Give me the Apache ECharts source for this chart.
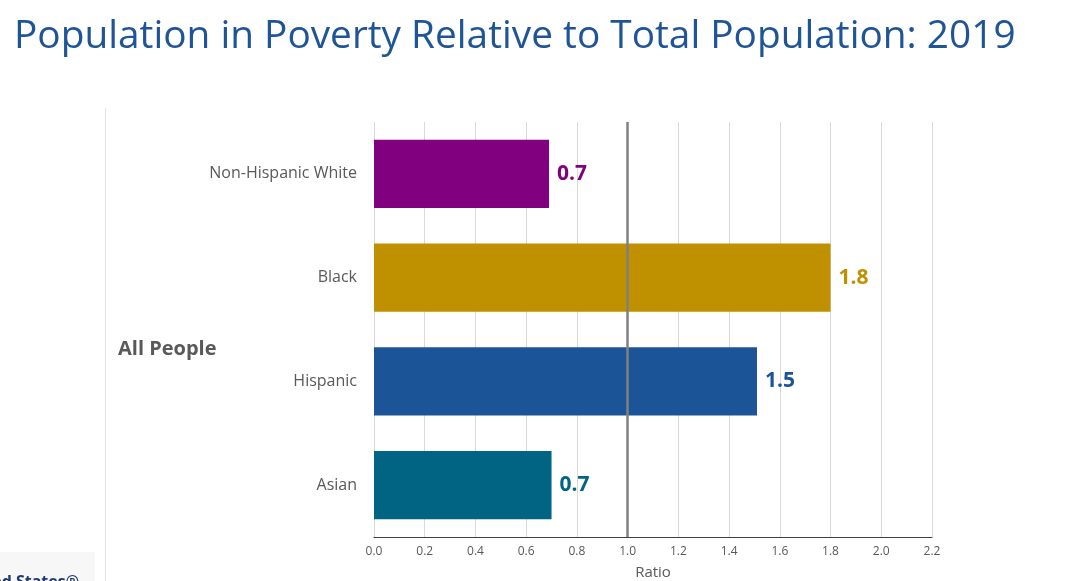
<!DOCTYPE html>
<html>
<head>
<meta charset="utf-8">
<script src="https://cdn.jsdelivr.net/npm/echarts@6/dist/echarts.min.js"></script>
<style>
html,body{margin:0;padding:0;background:#fff;}
#chart{width:1080px;height:581px;}
</style>
</head>
<body>
<div id="chart"></div>
<script>
const titleText = 'Population in Poverty Relative to Total Population: 2019';
const groupLabel = 'All People';
const logoText = 'United States®';
const categories = ['Non-Hispanic White', 'Black', 'Hispanic', 'Asian'];
const ratios = [0.69, 1.80, 1.51, 0.70];
const referenceRatio = 1.0;
const axisName = 'Ratio';
const barColors = ['#800080', '#BF9000', '#1C5597', '#006482'];

const chart = echarts.init(document.getElementById('chart'), null, {renderer: 'canvas'});
chart.setOption({
  backgroundColor: '#fff',
  animation: false,
  title: {
    text: titleText,
    left: 9, top: 12,
    textStyle: {fontFamily: 'Open Sans', fontWeight: 'normal', fontSize: 38.8, color: '#1F5597'}
  },
  graphic: [
    {type: 'line', shape: {x1: 105.5, y1: 108, x2: 105.5, y2: 581}, style: {stroke: '#e3e3e3', lineWidth: 1}},
    {type: 'rect', shape: {x: 0, y: 552, width: 95, height: 29}, style: {fill: '#f7f7f7'}},
    {type: 'text', x: 79, y: 574, style: {text: logoText, fontFamily: 'Open Sans', fontWeight: 'bold', fontSize: 16, fill: '#1F3A6E', align: 'right', verticalAlign: 'top'}},
    {type: 'text', x: 118, y: 349, style: {text: groupLabel, fontFamily: 'Open Sans', fontWeight: 'bold', fontSize: 20, fill: '#595959', verticalAlign: 'middle'}}
  ],
  grid: {left: 374, right: 148, top: 122, bottom: 44, containLabel: false, outerBoundsMode: 'none'},
  xAxis: {
    type: 'value', min: 0, max: 2.2, interval: 0.2,
    name: axisName, nameLocation: 'middle', nameGap: 28,
    nameTextStyle: {fontFamily: 'Open Sans', fontSize: 15, color: '#595959'},
    axisLine: {show: true, lineStyle: {color: '#404040', width: 1}},
    axisTick: {show: false},
    axisLabel: {fontFamily: 'Open Sans', fontSize: 12, color: '#595959', margin: 9, formatter: v => v.toFixed(1)},
    splitLine: {show: true, lineStyle: {color: '#d9d9d9', width: 1}}
  },
  yAxis: {
    type: 'category', data: categories, inverse: true,
    axisLine: {show: false}, axisTick: {show: false},
    axisLabel: {fontFamily: 'Open Sans', fontSize: 16, color: '#595959', margin: 17}
  },
  series: [{
    type: 'bar',
    data: ratios.map((v, i) => ({value: v, itemStyle: {color: barColors[i]}, label: {color: barColors[i]}})),
    barCategoryGap: '34%',
    label: {show: true, position: 'right', distance: 8, fontFamily: 'Open Sans', fontWeight: 'bold', fontSize: 21, formatter: p => p.value.toFixed(1)},
    markLine: {
      silent: true, symbol: 'none',
      label: {show: false},
      lineStyle: {color: '#808080', width: 2.5, type: 'solid'},
      data: [{xAxis: referenceRatio}]
    }
  }]
});
</script>
</body>
</html>
